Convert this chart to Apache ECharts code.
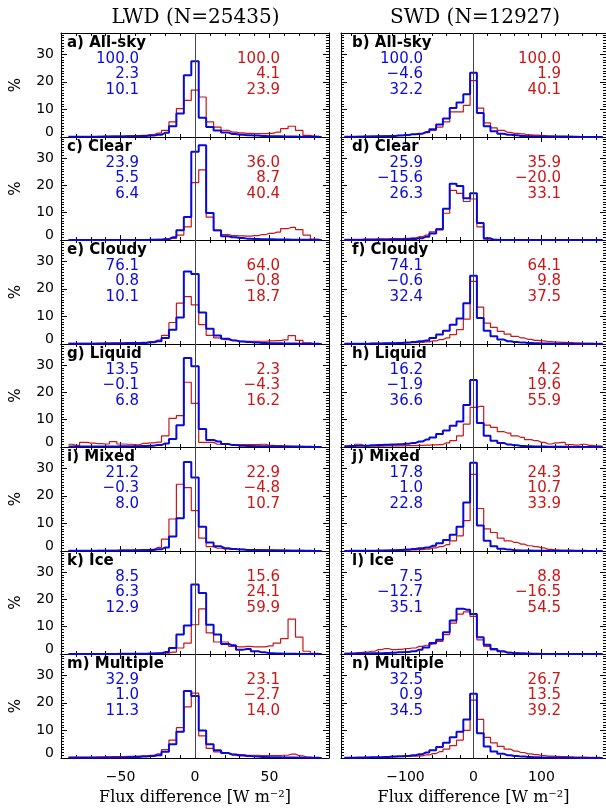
<!DOCTYPE html>
<html>
<head>
<meta charset="utf-8">
<script src="https://cdn.jsdelivr.net/npm/echarts@6/dist/echarts.min.js"></script>
<style>
  html, body { margin: 0; padding: 0; background: #fff; }
  #chart { width: 606px; height: 808px; }
</style>
</head>
<body>
<div id="chart"></div>
<script>
// bin centres (W m-2)
const lwdBins = [-85,-80,-75,-70,-65,-60,-55,-50,-45,-40,-35,-30,-25,-20,-15,-10,-5,0,5,10,15,20,25,30,35,40,45,50,55,60,65,70,75,80,85]
const swdBins = [-190,-180,-170,-160,-150,-140,-130,-120,-110,-100,-90,-80,-70,-60,-50,-40,-30,-20,-10,0,10,20,30,40,50,60,70,80,90,100,110,120,130,140,150,160,170,180,190]

// tick values
const lwdMajor = [-50, 0, 50]
const lwdMinor = [-80,-70,-60,-40,-30,-20,-10,10,20,30,40,60,70,80]
const swdMajor = [-100, 0, 100]
const swdMinor = [-180,-160,-140,-120,-80,-60,-40,-20,20,40,60,80,120,140,160,180]

const colTitles = ['LWD (N=25435)', 'SWD (N=12927)']
const panelLabels = ['a) All-sky', 'b) All-sky', 'c) Clear', 'd) Clear', 'e) Cloudy', 'f) Cloudy',
  'g) Liquid', 'h) Liquid', 'i) Mixed', 'j) Mixed', 'k) Ice', 'l) Ice', 'm) Multiple', 'n) Multiple']

// percentages, blue = first product, red = second product
const lwdAllSkyBlue = [0.1,0.1,0.1,0.1,0.1,0.2,0.2,0.2,0.3, 0.3,0.4,0.5,0.8,1.5,3.9,8.5,22.4, 27.5, 7.0,3.6,2.4,1.6,1.1,0.8,0.6,0.5, 0.4,0.3,0.3,0.2,0.2,0.1,0.1,0.1,0.0]
const lwdAllSkyRed = [0.1,0.1,0.1,0.1,0.2,0.2,0.3,0.3,0.4, 0.5,0.6,0.9,1.4,2.4,5.5,10.3,13.3, 17.0, 14.5,5.5,3.6,2.4,1.8,1.5,1.3,1.2, 1.2,1.3,1.8,3.0,3.9,2.4,0.6,0.2,0.1]
const lwdClearBlue = [0,0,0,0,0,0,0,0,0, 0,0,0.1,0.1,0.3,1.0,3.6,8.4, 32.3, 34.7,9.9,3.6,1.4,1.0,0.7,0.5,0.4, 0.3,0.3,0.2,0.2,0.1,0.1,0.1,0,0]
const lwdClearRed = [0,0,0,0,0,0,0,0,0.1, 0.1,0.1,0.1,0.2,0.3,0.6,1.8,4.8, 21.0, 25.7,8.4,3.4,2.0,1.6,1.5,1.4,1.6, 2.0,2.4,2.9,4.2,4.6,3.8,1.8,0.3,0.1]
const lwdCloudyBlue = [0.1,0.1,0.1,0.1,0.1,0.2,0.2,0.2,0.3, 0.3,0.4,0.6,1.0,2.2,5.2,9.6,26.3, 25.4, 11.4,5.5,3.1,1.9,1.3,0.9,0.7,0.5, 0.4,0.3,0.3,0.2,0.2,0.1,0.1,0.1,0.0]
const lwdCloudyRed = [0.2,0.2,0.2,0.2,0.3,0.3,0.4,0.4,0.5, 0.5,0.6,0.9,1.4,3.1,7.8,14.8,17.2, 14.2, 7.0,3.1,2.2,1.6,1.3,1.0,1.0,1.0, 1.0,1.1,1.2,1.5,3.0,1.3,0.4,0.1,0.1]
const lwdLiquidBlue = [0.2,0.2,0.2,0.2,0.2,0.2,0.2,0.3,0.3, 0.3,0.4,0.5,0.7,1.3,2.9,8.0,32.6, 29.6, 6.6,2.6,2.0,1.1,0.7,0.5,0.4,0.3, 0.3,0.2,0.2,0.1,0.1,0.1,0.1,0,0]
const lwdLiquidRed = [1.0,0.6,1.7,1.4,1.2,1.1,2.0,1.1,1.0, 0.8,1.3,1.5,1.8,4.1,10.5,11.5,23.7, 16.0, 1.7,1.7,1.0,1.0,0.9,0.9,0.9,0.9, 1.0,0.6,0.5,0.4,0.3,0.2,0.1,0.1,0.1]
const lwdMixedBlue = [0.1,0.1,0.1,0.1,0.1,0.1,0.1,0.2,0.2, 0.2,0.3,0.4,0.6,1.3,5.3,11.9,32.3, 26.6, 8.8,3.1,1.7,1.0,0.7,0.5,0.4,0.3, 0.3,0.2,0.2,0.1,0.1,0.1,0.1,0,0]
const lwdMixedRed = [0.1,0.1,0.1,0.1,0.2,0.2,0.2,0.3,0.3, 0.4,0.5,0.6,1.3,4.3,11.6,24.2,23.0, 14.6, 4.7,1.6,1.0,0.8,0.6,0.6,0.5,0.5, 0.4,0.4,0.3,0.3,0.2,0.2,0.1,0.1,0.1]
const lwdIceBlue = [0,0,0,0,0,0,0,0.1,0.1, 0.1,0.1,0.2,0.3,0.7,2.2,7.1,10.4, 25.4, 22.3,10.7,7.1,3.7,3.2,1.6,1.8,1.0, 0.6,0.3,0.2,0.1,0.1,0,0,0,0]
const lwdIceRed = [0,0,0,0,0,0,0,0.1,0.1, 0.1,0.1,0.2,0.2,0.3,0.7,2.2,4.0, 10.7, 16.5,7.7,4.4,4.4,2.8,2.6,2.8,2.6, 2.6,3.0,4.0,5.6,12.8,6.2,1.0,0.2,0.1]
const lwdMultipleBlue = [0.1,0.1,0.1,0.1,0.1,0.2,0.2,0.2,0.3, 0.4,0.5,0.7,1.0,2.3,5.0,9.5,24.3, 22.5, 10.0,5.0,2.8,1.8,1.2,0.9,0.7,0.5, 0.4,0.3,0.3,0.2,0.2,0.1,0.1,0.1,0]
const lwdMultipleRed = [0.3,0.3,0.3,0.3,0.4,0.4,0.5,0.5,0.6, 0.7,0.8,1.0,1.5,3.0,6.5,11.0,18.5, 23.5, 8.0,3.5,2.2,1.7,1.4,1.2,1.0,1.0, 0.9,0.9,0.9,1.0,1.4,0.8,0.3,0.1,0.1]

const swdAllSkyBlue = [0.1,0.1,0.1,0.2,0.2,0.3,0.3,0.4,0.5,0.7, 1.0,1.2,1.8,2.8,4.5,6.7,10.5,12.5,15.5, 23.3, 8.7,3.9,2.1,1.2,0.8,0.6,0.4,0.3,0.2, 0.2,0.1,0.1,0.1,0.1,0,0,0,0,0]
const swdAllSkyRed = [0.1,0.1,0.2,0.2,0.3,0.3,0.4,0.5,0.6,0.8, 1.0,1.2,1.6,2.4,3.6,5.5,9.1,9.1,11.5, 20.4, 10.5,5.1,3.3,2.4,1.7,1.3,1.1,0.8,0.7, 0.5,0.4,0.3,0.3,0.2,0.2,0.1,0.1,0.1,0.1]
const swdClearBlue = [0,0,0,0.1,0.1,0.1,0.1,0.2,0.2,0.3, 0.4,0.6,1.2,2.4,3.8,11.4,20.6,19.8,15.3, 17.1, 6.2,0.6,0.1,0,0,0,0,0,0, 0,0,0,0,0,0,0,0,0,0]
const swdClearRed = [0.2,0.2,0.2,0.3,0.3,0.4,0.4,0.5,0.5,0.6, 0.8,1.2,1.8,3.0,4.2,9.8,18.2,17.1,14.1, 15.0, 4.8,0.3,0.1,0,0,0,0,0,0, 0,0,0,0,0,0,0,0,0,0]
const swdCloudyBlue = [0.1,0.1,0.1,0.1,0.2,0.2,0.3,0.3,0.4,0.5, 0.7,1.0,1.3,2.2,3.4,4.8,7.0,9.2,14.8, 24.7, 9.4,4.8,2.8,1.6,1.0,0.7,0.5,0.4,0.3, 0.2,0.2,0.1,0.1,0.1,0,0,0,0,0]
const swdCloudyRed = [0.1,0.1,0.1,0.1,0.2,0.2,0.2,0.3,0.3,0.4, 0.5,0.6,0.8,1.1,1.6,2.2,3.4,5.2,9.0, 22.7, 13.4,7.6,6.0,4.6,3.6,2.8,2.2,1.7,1.3, 1.1,0.9,0.7,0.6,0.5,0.4,0.3,0.3,0.2,0.2]
const swdLiquidBlue = [0.3,0.4,0.5,0.5,0.6,0.7,0.8,0.9,1.0,1.2, 1.5,2.0,2.7,3.5,4.8,6.0,7.8,9.3,15.4, 24.5, 8.8,4.1,2.3,1.5,0.9,0.6,0.4,0.3,0.2, 0.2,0.1,0.1,0.1,0,0,0,0,0,0]
const swdLiquidRed = [0.3,0.2,1.0,0.3,0.3,0.3,0.4,0.4,0.4,0.5, 0.5,0.6,0.7,0.8,0.9,1.5,2.3,4.1,8.4, 14.5, 14.9,8.0,7.2,5.6,5.1,4.1,3.5,2.7,2.3, 1.7,1.1,1.5,1.7,0.9,0.7,1.0,0.6,0.4,0.3]
const swdMixedBlue = [0,0.1,0.1,0.1,0.1,0.2,0.2,0.3,0.4,0.5, 0.7,1.0,1.3,1.9,2.8,4.0,5.9,8.8,17.6, 32.0, 9.2,3.7,1.7,0.8,0.5,0.3,0.2,0.2,0.1, 0.1,0.1,0,0,0,0,0,0,0,0]
const swdMixedRed = [0.1,0.1,0.1,0.1,0.1,0.1,0.2,0.2,0.3,0.3, 0.4,0.5,0.7,1.1,1.6,2.3,3.7,5.5,11.0, 27.8, 15.4,8.0,6.7,4.7,3.7,3.1,2.5,1.9,1.6, 1.1,0.6,0.4,0.3,0.3,0.2,0.2,0.1,0.1,0.1]
const swdIceBlue = [0.1,0.1,0.2,0.2,0.3,0.3,0.4,0.5,0.6,0.7, 1.0,1.6,2.4,4.0,5.2,8.0,12.3,16.6,16.2, 14.6, 6.1,3.4,1.8,1.0,0.5,0.3,0.2,0.1,0.1, 0,0,0,0,0,0,0,0,0,0]
const swdIceRed = [0.2,0.3,0.5,0.7,1.0,1.6,2.0,1.6,1.7,2.0, 2.2,2.8,3.2,3.7,4.6,7.1,11.3,14.6,15.4, 13.8, 5.2,2.8,1.5,0.9,0.6,0.4,0.3,0.2,0.1, 0.1,0.1,0,0,0,0,0,0,0,0]
const swdMultipleBlue = [0.1,0.1,0.2,0.2,0.3,0.3,0.4,0.5,0.6,0.7, 1.0,1.4,2.0,2.8,4.0,5.5,7.5,9.5,14.0, 23.3, 9.0,4.2,2.4,1.5,1.0,0.7,0.5,0.4,0.3, 0.2,0.2,0.1,0.1,0.1,0,0,0,0,0]
const swdMultipleRed = [0.1,0.1,0.1,0.2,0.2,0.2,0.3,0.4,0.5,0.6, 0.7,0.8,1.1,1.6,2.3,3.2,4.5,6.5,10.0, 21.0, 14.0,7.5,5.5,4.2,3.2,2.5,2.0,1.5,1.2, 0.9,0.7,0.6,0.5,0.4,0.3,0.3,0.2,0.2,0.1]

// numbers printed in each panel (a..n)
const statsBlue = [['100.0','2.3','10.1'], ['100.0','-4.6','32.2'], ['23.9','5.5','6.4'], ['25.9','-15.6','26.3'],
  ['76.1','0.8','10.1'], ['74.1','-0.6','32.4'], ['13.5','-0.1','6.8'], ['16.2','-1.9','36.6'],
  ['21.2','-0.3','8.0'], ['17.8','1.0','22.8'], ['8.5','6.3','12.9'], ['7.5','-12.7','35.1'],
  ['32.9','1.0','11.3'], ['32.5','0.9','34.5']]
const statsRed = [['100.0','4.1','23.9'], ['100.0','1.9','40.1'], ['36.0','8.7','40.4'], ['35.9','-20.0','33.1'],
  ['64.0','-0.8','18.7'], ['64.1','9.8','37.5'], ['2.3','-4.3','16.2'], ['4.2','19.6','55.9'],
  ['22.9','-4.8','10.7'], ['24.3','10.7','33.9'], ['15.6','24.1','59.9'], ['8.8','-16.5','54.5'],
  ['23.1','-2.7','14.0'], ['26.7','13.5','39.2']]

const blueData = [lwdAllSkyBlue, swdAllSkyBlue, lwdClearBlue, swdClearBlue, lwdCloudyBlue, swdCloudyBlue,
  lwdLiquidBlue, swdLiquidBlue, lwdMixedBlue, swdMixedBlue, lwdIceBlue, swdIceBlue, lwdMultipleBlue, swdMultipleBlue]
const redData = [lwdAllSkyRed, swdAllSkyRed, lwdClearRed, swdClearRed, lwdCloudyRed, swdCloudyRed,
  lwdLiquidRed, swdLiquidRed, lwdMixedRed, swdMixedRed, lwdIceRed, swdIceRed, lwdMultipleRed, swdMultipleRed]

const BLUE = '#0a0ad8'
const RED = '#cc1616'
const SANS = "'DejaVu Sans', sans-serif"
const SERIF = "'DejaVu Serif', serif"

// layout
const colLeft = [61, 341]
const colWidth = [268, 270]
const rowTop = 33
const rowH = 103.5
const nRows = 7
const xRange = [[-90, 90], [-195, 195]]

const minus = v => String(v).replace('-', '\u2212')

const grid = []
const xAxis = []
const yAxis = []
const series = []
const graphic = []

for (let i = 0; i < 14; i++) {
  const col = i % 2
  const row = Math.floor(i / 2)
  const top = Math.round(rowTop + row * rowH)
  const bottom = Math.round(rowTop + (row + 1) * rowH)
  const last = row === nRows - 1
  grid.push({ left: colLeft[col], top: top, width: colWidth[col], height: bottom - top })

  const major = col ? swdMajor : lwdMajor
  const minor = col ? swdMinor : lwdMinor
  const bins = col ? swdBins : lwdBins
  const xBase = {
    type: 'value', gridIndex: i, min: xRange[col][0], max: xRange[col][1],
    splitLine: { show: false }
  }
  const line = { show: true, onZero: false, lineStyle: { color: '#000', width: 1 } }
  const noLine = { show: false, onZero: false }
  // bottom, major ticks (+ labels on last row)
  xAxis.push(Object.assign({}, xBase, {
    position: 'bottom', axisLine: line,
    axisTick: { show: true, inside: true, length: 5, customValues: major, lineStyle: { color: '#000' } },
    axisLabel: { show: last, customValues: major, formatter: minus, margin: 12, fontFamily: SANS, fontSize: 14, color: '#000' },
    name: last ? 'Flux difference [W m\u207B\u00B2]' : '',
    nameLocation: 'middle', nameGap: 32,
    nameTextStyle: { fontFamily: SERIF, fontSize: 16, color: '#000' }
  }))
  // bottom, minor ticks
  xAxis.push(Object.assign({}, xBase, {
    position: 'bottom', axisLine: noLine,
    axisTick: { show: true, inside: true, length: 3, customValues: minor, lineStyle: { color: '#000' } },
    axisLabel: { show: false }
  }))
  // top, major ticks
  xAxis.push(Object.assign({}, xBase, {
    position: 'top', axisLine: line,
    axisTick: { show: true, inside: true, length: 5, customValues: major, lineStyle: { color: '#000' } },
    axisLabel: { show: false }
  }))
  // top, minor ticks
  xAxis.push(Object.assign({}, xBase, {
    position: 'top', axisLine: noLine,
    axisTick: { show: true, inside: true, length: 3, customValues: minor, lineStyle: { color: '#000' } },
    axisLabel: { show: false }
  }))

  const yBase = {
    type: 'value', gridIndex: i, min: 0, max: 37.7, interval: 10,
    splitLine: { show: false },
    axisLine: line,
    axisTick: { show: true, inside: true, length: 6, lineStyle: { color: '#000' } },
    minorTick: { show: true, splitNumber: 10, length: 3, lineStyle: { color: '#000' } }
  }
  yAxis.push(Object.assign({}, yBase, {
    position: 'left',
    axisLabel: {
      show: col === 0, showMaxLabel: false, margin: 7,
      fontFamily: SANS, fontSize: 14, color: '#000',
      formatter: v => (v % 10 !== 0 ? '' : v === 0 ? '{z|0}' : String(v)),
      rich: { z: { fontFamily: SANS, fontSize: 14, color: '#000', padding: [0, 0, 10, 0] } }
    },
    name: col === 0 ? '%' : '',
    nameLocation: 'middle', nameGap: 37, nameRotate: 90,
    nameTextStyle: { fontFamily: SANS, fontSize: 15, color: '#000' }
  }))
  yAxis.push(Object.assign({}, yBase, { position: 'right', axisLabel: { show: false } }))

  series.push({
    type: 'line', step: 'middle', xAxisIndex: 4 * i, yAxisIndex: 2 * i,
    data: bins.map((b, k) => [b, redData[i][k]]),
    showSymbol: false, silent: true,
    lineStyle: { color: RED, width: 1.2 }, z: 3
  })
  series.push({
    type: 'line', step: 'middle', xAxisIndex: 4 * i, yAxisIndex: 2 * i,
    data: bins.map((b, k) => [b, blueData[i][k]]),
    showSymbol: false, silent: true,
    lineStyle: { color: BLUE, width: 2 }, z: 4,
    markLine: {
      silent: true, symbol: ['none', 'none'], label: { show: false },
      lineStyle: { color: '#444', width: 1, type: 'solid' },
      data: [{ xAxis: 0 }]
    }
  })

  // panel label and numbers
  graphic.push({
    type: 'text', x: colLeft[col] + (col ? 11 : 6), y: top + 10,
    style: { text: panelLabels[i], font: 'bold 15px ' + SANS, fill: '#000', verticalAlign: 'middle' }
  })
  const blueX = colLeft[col] + (col ? 82 : 78)
  const redX = colLeft[col] + (col ? 220 : 219)
  const lineY = [26, 41.5, 57]
  for (let r = 0; r < 3; r++) {
    graphic.push({
      type: 'text', x: blueX, y: top + lineY[r],
      style: { text: minus(statsBlue[i][r]), font: '15px ' + SANS, fill: BLUE, align: 'right', verticalAlign: 'middle' }
    })
    graphic.push({
      type: 'text', x: redX, y: top + lineY[r],
      style: { text: minus(statsRed[i][r]), font: '15px ' + SANS, fill: RED, align: 'right', verticalAlign: 'middle' }
    })
  }
}

// column titles
const titleX = [195.5, 475]
colTitles.forEach((t, c) => {
  graphic.push({
    type: 'text', x: titleX[c], y: 18,
    style: { text: t, font: '20px ' + SERIF, fill: '#000', align: 'center', verticalAlign: 'middle' }
  })
})

const chart = echarts.init(document.getElementById('chart'))
chart.setOption({
  animation: false,
  backgroundColor: '#fff',
  grid: grid,
  xAxis: xAxis,
  yAxis: yAxis,
  series: series,
  graphic: graphic
})
</script>
</body>
</html>
